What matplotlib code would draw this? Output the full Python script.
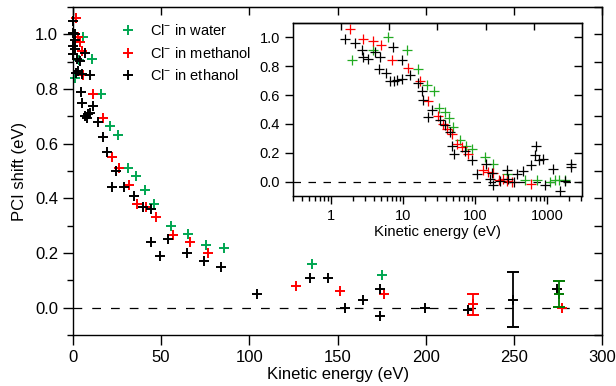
import numpy as np
import matplotlib
matplotlib.use('Agg')
import matplotlib.pyplot as plt
from matplotlib.ticker import MultipleLocator, LogLocator, NullFormatter, FixedLocator

plt.rcParams['font.family'] = ['Liberation Sans', 'DejaVu Sans']
plt.rcParams['mathtext.fontset'] = 'custom'
plt.rcParams['mathtext.rm'] = 'Liberation Sans'
plt.rcParams['mathtext.it'] = 'Liberation Sans:italic'

GREEN = '#00a651'
GREEN_IN = '#22aa22'
GREEN_ERR = '#007a00'
RED = '#ff0000'
BLACK = '#000000'

# ---- main panel: 0-300 eV (linear) ----
water_ke = [1.3, 3.5, 6.0, 10.7, 15.9, 20.9, 25.8, 31.1, 35.8, 40.9, 46.0, 55.7, 65.5, 75.3, 85.7, 135.3, 175.3]
water_shift = [0.84, 0.905, 0.99, 0.91, 0.78, 0.665, 0.63, 0.51, 0.48, 0.43, 0.38, 0.30, 0.27, 0.23, 0.22, 0.16, 0.12]
water_err_ke = [275.5]
water_err_shift = [0.05]
water_err = [0.046]

meth_ke = [1.9, 3.2, 4.1, 5.1, 6.0, 11.3, 17.0, 22.1, 26.4, 32.0, 36.6, 41.5, 47.0, 57.0, 66.4, 76.6, 126.3, 151.4, 176.5, 277.0]
meth_shift = [1.06, 0.99, 0.97, 0.94, 0.85, 0.78, 0.695, 0.55, 0.51, 0.45, 0.38, 0.37, 0.33, 0.265, 0.24, 0.20, 0.08, 0.06, 0.05, 0.0]
meth_err_ke = [226.5]
meth_err_shift = [0.012]
meth_err = [0.038]

eth_ke = [0, 0, 1.3, 1.3, 0, 1.3, 7.0, 0.4, 2.3, 4.1, 3.2, 1.9, 5.1, 9.8, 4.5, 5.5, 11.7, 7.0, 7.9, 8.8, 9.8,
          14.5, 17.0, 19.3, 24.4, 22.1, 29.2, 34.5, 39.6, 44.2, 44.5, 49.6, 54.1, 64.5, 74.3, 84.2, 104.2,
          134.4, 144.4, 154.2, 164.2, 174.0, 174.0, 199.5, 224.0, 274.0]
eth_shift = [1.05, 1.006, 1.0, 0.98, 0.957, 0.947, 0.933, 0.927, 0.908, 0.902, 0.866, 0.857, 0.853, 0.85, 0.79,
             0.75, 0.737, 0.70, 0.695, 0.707, 0.713, 0.68, 0.624, 0.57, 0.50, 0.44, 0.44, 0.41, 0.37, 0.36,
             0.24, 0.19, 0.25, 0.20, 0.17, 0.15, 0.05, 0.11, 0.11, 0.0, 0.03, 0.07, -0.03, 0.0, -0.008, 0.07]
eth_err_ke = [249.5]
eth_err_shift = [0.03]
eth_err = [0.10]

# ---- inset: log energy scale ----
ins_water_ke = [1.94, 3.8, 6.1, 11.2, 16.3, 21.8, 26.9, 31.5, 38, 44, 49, 61, 75, 91, 137, 180, 280, 494, 720,
                1100, 1290, 1480, 1800]
ins_water_shift = [0.84, 0.91, 1.0, 0.91, 0.78, 0.67, 0.63, 0.51, 0.48, 0.44, 0.38, 0.29, 0.25, 0.225, 0.17,
                   0.125, 0.05, 0.008, 0.008, -0.003, 0.008, 0.008, 0.008]

ins_meth_ke = [1.84, 2.8, 3.8, 4.9, 7.0, 11.9, 17.2, 22.5, 31, 36.3, 41.3, 47.4, 55.7, 65.3, 80.4, 130, 150,
               180, 217, 243, 276, 324, 596]
ins_meth_shift = [1.06, 0.99, 0.975, 0.945, 0.845, 0.785, 0.695, 0.56, 0.453, 0.40, 0.367, 0.333, 0.263, 0.24,
                  0.194, 0.083, 0.07, 0.057, 0.008, 0.02, 0.004, 0.0, -0.02]

ins_eth_ke = [1.56, 2.15, 2.67, 2.81, 3.3, 4.08, 4.79, 7.34, 9.58, 4.69, 5.81, 12.5, 6.6, 7.5, 8.3, 9.6, 16.3,
              18.1, 19.2, 25.1, 22.5, 32.6, 38.4, 44.9, 47.4, 51.3, 72.5, 89.7, 106, 142, 162, 175, 178, 222,
              280, 290, 349, 380, 470, 596, 700, 690, 780, 880, 950, 1200, 1530, 1800, 2150, 2150]
ins_eth_shift = [0.992, 0.958, 0.911, 0.865, 0.853, 0.899, 0.865, 0.934, 0.846, 0.784, 0.753, 0.737, 0.70, 0.70,
                 0.703, 0.71, 0.684, 0.626, 0.564, 0.50, 0.446, 0.425, 0.39, 0.344, 0.244, 0.194, 0.212, 0.147,
                 0.052, 0.124, 0.02, 0.059, -0.022, 0.004, 0.078, 0.02, -0.003, 0.05, 0.073, 0.115, 0.245,
                 0.182, 0.153, 0.159, -0.026, 0.09, -0.066, 0.004, 0.12, 0.10]

labels = [r'Cl$^{-}$ in water', r'Cl$^{-}$ in methanol', r'Cl$^{-}$ in ethanol']

fig = plt.figure(figsize=(6.16, 3.86), dpi=100)
ax = fig.add_axes([0.118, 0.132, 0.860, 0.850])

mk = dict(linestyle='none', marker='+', markersize=6.5, markeredgewidth=1.4, clip_on=False)
hw, = ax.plot(water_ke, water_shift, color=GREEN, **mk)
hm, = ax.plot(meth_ke, meth_shift, color=RED, **mk)
he, = ax.plot(eth_ke, eth_shift, color=BLACK, **mk)

eb = dict(fmt='+', markersize=6.5, markeredgewidth=1.4, capsize=4.5, elinewidth=1.3, capthick=1.3)
ax.errorbar(meth_err_ke, meth_err_shift, yerr=meth_err, color=RED, **eb)
ax.errorbar(eth_err_ke, eth_err_shift, yerr=eth_err, color=BLACK, **eb)
ax.errorbar(water_err_ke, water_err_shift, yerr=water_err, color=GREEN_ERR, **eb)

ax.axhline(0, color='black', lw=0.9, linestyle=(0, (7, 8)), zorder=0)

ax.set_xlim(0, 300)
ax.set_ylim(-0.1, 1.1)
ax.set_xticks(np.arange(0, 301, 50))
ax.yaxis.set_major_locator(MultipleLocator(0.2))
ax.yaxis.set_minor_locator(MultipleLocator(0.1))
ax.yaxis.set_major_formatter(plt.FuncFormatter(lambda v, p: '%.1f' % v))
ax.tick_params(axis='both', which='major', direction='out', length=7, width=1, labelsize=12)
ax.tick_params(axis='y', which='minor', direction='out', length=4.5, width=1)
ax.set_xlabel('Kinetic energy (eV)', fontsize=12, labelpad=2)
ax.set_ylabel('PCI shift (eV)', fontsize=12, labelpad=6)
for s in ax.spines.values():
    s.set_linewidth(1.0)

top = ax.secondary_xaxis('top')
top.set_xticks(np.arange(0, 301, 50))
top.tick_params(direction='in', length=6, width=1, labeltop=False)
right = ax.secondary_yaxis('right')
right.yaxis.set_major_locator(MultipleLocator(0.1))
right.tick_params(direction='in', length=6, width=1, labelright=False)

ax.legend([hw, hm, he], labels, loc='upper left', bbox_to_anchor=(0.09, 0.95), frameon=False,
          handlelength=1.0, handletextpad=1.0, labelspacing=0.5, fontsize=10.5,
          borderaxespad=0, borderpad=0)

# inset
ins = fig.add_axes([0.4756, 0.4922, 0.4692, 0.4482])
mki = dict(linestyle='none', marker='+', markersize=7, markeredgewidth=0.9)
ins.plot(ins_water_ke, ins_water_shift, color=GREEN_IN, **mki)
ins.plot(ins_meth_ke, ins_meth_shift, color=RED, **mki)
ins.plot(ins_eth_ke, ins_eth_shift, color=BLACK, **mki)
ins.axhline(0, color='black', lw=0.9, linestyle=(0, (6, 6)), zorder=0)

ins.set_xscale('log')
ins.set_xlim(0.2967, 3063)
ins.set_ylim(-0.1, 1.1)
ins.xaxis.set_major_locator(FixedLocator([1, 10, 100, 1000]))
ins.xaxis.set_major_formatter(plt.FuncFormatter(lambda v, p: '%d' % v))
ins.xaxis.set_minor_locator(LogLocator(base=10, subs=np.arange(2, 10)))
ins.xaxis.set_minor_formatter(NullFormatter())
ins.yaxis.set_major_locator(MultipleLocator(0.2))
ins.yaxis.set_major_formatter(plt.FuncFormatter(lambda v, p: '%.1f' % v))
ins.tick_params(axis='both', which='major', direction='out', length=6, width=1, labelsize=10.5)
ins.tick_params(axis='x', which='minor', direction='out', length=3.5, width=1)
ins.set_xlabel('Kinetic energy (eV)', fontsize=10.7, labelpad=1)
for s in ins.spines.values():
    s.set_linewidth(1.0)

itop = ins.twiny()
itop.set_xlim(0, 6)
itop.set_xticks([1, 2, 3, 4, 5])
itop.tick_params(direction='in', length=5, width=1, labeltop=False)
itop.spines['top'].set_linewidth(1.0)
iright = ins.secondary_yaxis('right')
iright.yaxis.set_major_locator(MultipleLocator(0.2))
iright.tick_params(direction='in', length=6, width=1, labelright=False)

fig.savefig('out.png', dpi=100)
